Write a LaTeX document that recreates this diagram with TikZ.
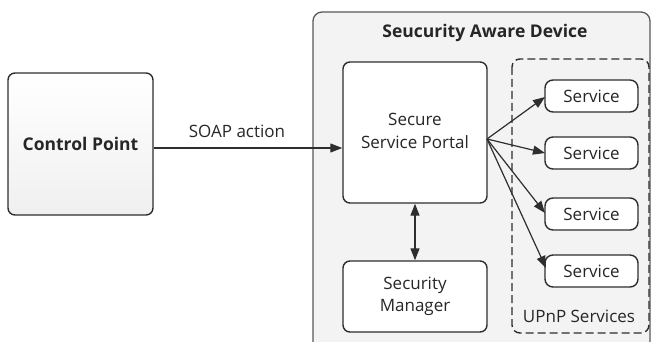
\documentclass[tikz,border=0pt]{standalone}
\usepackage{fontspec}
\setmainfont{Open Sans}
\usetikzlibrary{arrows.meta}
\definecolor{ln}{HTML}{2E2E2E}
\definecolor{txt}{HTML}{262626}
\definecolor{devfill}{HTML}{F3F3F3}
\begin{document}
\begin{tikzpicture}[x=1pt,y=-1pt,
  every node/.style={text=txt,font=\fontsize{17}{22.5}\selectfont},
  box/.style={draw=ln,line width=1.4pt,rounded corners=7pt,fill=white},
  arr/.style={draw=ln,line width=1.2pt,-{Triangle[length=12pt,width=9pt]}},
  darr/.style={draw=ln,line width=1.2pt,{Triangle[length=12pt,width=9pt]}-{Triangle[length=12pt,width=9pt]}}]
\useasboundingbox (0,0) rectangle (653,342);
% device container
\draw[draw=ln!80,line width=1.3pt,rounded corners=9pt,fill=devfill] (313,360) -- (313,12) -- (650,12) -- (650,360);
\node[font=\bfseries\fontsize{17.5}{21}\selectfont] (title) at (485,33) {Seucurity Aware Device};
% UPnP group
\draw[draw=ln,line width=1.4pt,dashed,dash pattern=on 8pt off 4pt,rounded corners=8pt,fill=devfill] (512,59) rectangle (649,333);
\node (upnp) at (579,316) {UPnP Services};
% control point
\node[box,minimum width=145pt,minimum height=142pt,top color=white,bottom color=black!6,
  font=\bfseries\fontsize{17.5}{21}\selectfont] (cp) at (80.5,144) {Control Point};
% portal
\node[box,minimum width=144pt,minimum height=141pt] (portal) at (415,132.5) {};
\node[align=center] (portaltxt) at (415,131) {Secure\\Service Portal};
% manager
\node[box,minimum width=144pt,minimum height=71pt,align=center] (mgr) at (415,296.5) {Security\\Manager};
% services
\foreach \i/\y in {1/96,2/153,3/214,4/271}{
  \node[box,rounded corners=8pt,minimum width=93pt,minimum height=32pt] (s\i) at (591.5,\y) {Service};
}
\coordinate (o) at (487,139);
\node (soap) at (237,131) {SOAP action};
\draw[arr] (cp.east |- 0,148) -- (portal.west |- 0,148);
\draw[darr] (portal.south) -- (mgr.north);
\draw[arr] (o) -- (545,97);
\draw[arr] (o) -- (545,153);
\draw[arr] (o) -- (545,213);
\draw[arr] (o) -- (546,268);
\end{tikzpicture}
\end{document}
